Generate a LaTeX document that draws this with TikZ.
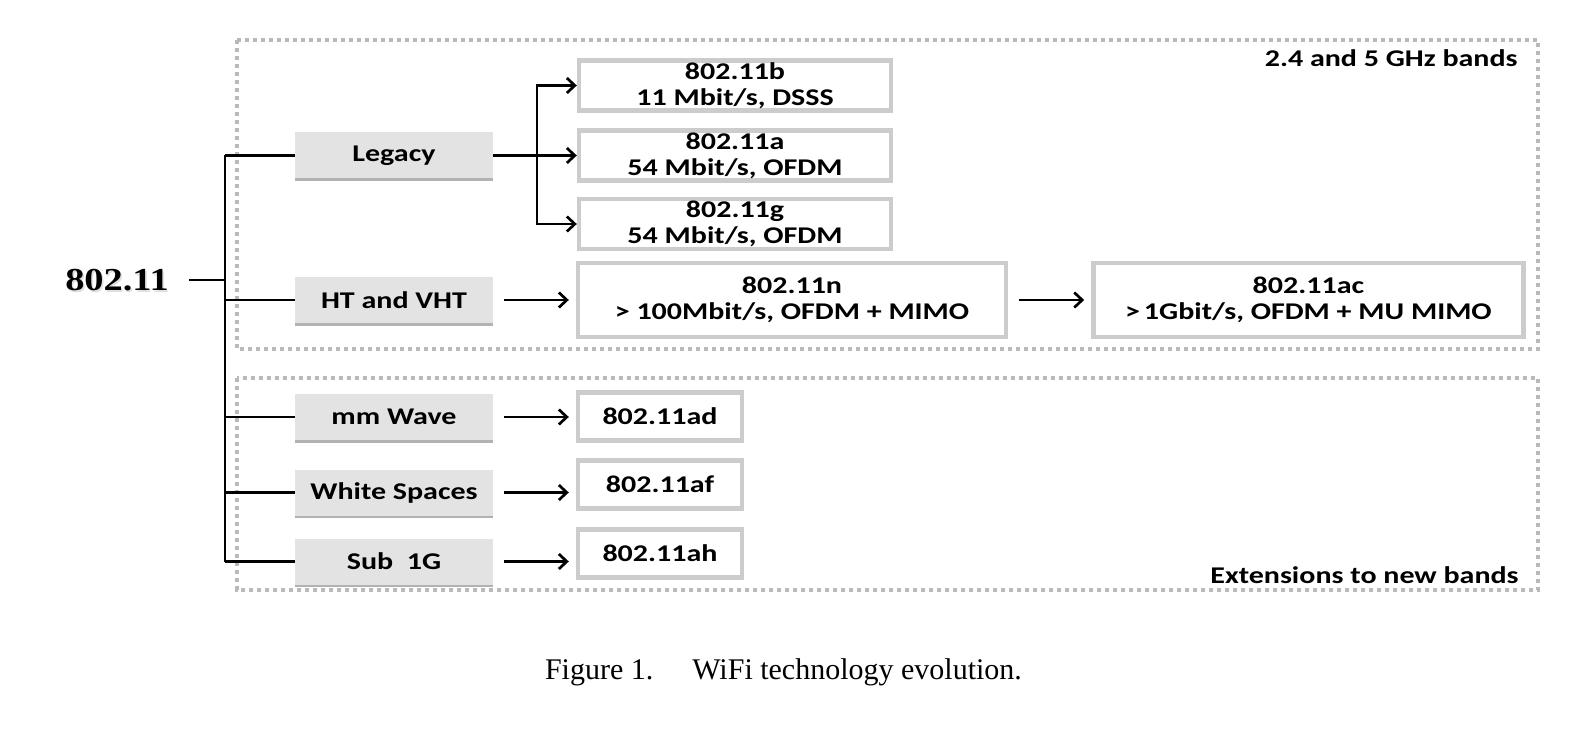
\documentclass[tikz,border=0pt]{standalone}
\usepackage{fontspec}
\setmainfont{Liberation Serif}
\newfontfamily\calfont{Carlito}[FakeStretch=1.25]
\newfontfamily\rootfont{Liberation Serif}[FakeStretch=1.2]
\usepackage{tikz}
\usetikzlibrary{positioning,shadows,arrows.meta}
\tikzset{
>={Straight Barb[length=4pt,width=7.5pt]}, % open arrow heads
link/.style={line width=1.35pt}, % black connectors
group/.style={draw=gray!55, line width=1.7pt, dash pattern=on 2.2pt off 1.8pt}, % dotted band frames
cat/.style={fill=gray!22, minimum width=99pt, minimum height=23pt, inner sep=1pt,
  font=\calfont\bfseries\fontsize{12}{13}\selectfont,
  drop shadow={shadow xshift=0pt, shadow yshift=-1.4pt, fill=black, opacity=.3}},
std/.style={draw=gray!40, line width=2.2pt, fill=white, minimum height=24pt, inner sep=1pt,
  align=center, font=\calfont\bfseries\fontsize{12}{13}\selectfont},
band/.style={anchor=east, inner sep=0pt, font=\calfont\bfseries\fontsize{12}{13}\selectfont},
}

\begin{document}
\begin{tikzpicture}[x=0.5pt, y=-0.5pt, node distance=41.5pt]
\useasboundingbox (0,0) rectangle (1570,733);
% frequency band frames
\draw[group] (237,40) rectangle (1538,349);
\draw[group] (237,378) rectangle (1538,590);
\node[band] (band old) at (1518,58) {2.4 and 5 GHz bands};
\node[band] (band new) at (1519,575) {Extensions to new bands};
% root and categories
\node[text=gray!25, inner sep=0pt, font=\rootfont\bfseries\fontsize{16}{19}\selectfont] (root shadow) at (118.5,282.5) {802.11};
\node[inner sep=0pt, font=\rootfont\bfseries\fontsize{16}{19}\selectfont] (root) at (117,280) {802.11};
\node[cat] (legacy) at (394,155.5) {Legacy};
\node[cat] (ht) at (394,300) {HT and VHT};
\node[cat] (mm) at (394,417) {mm Wave};
\node[cat] (ws) at (394,492.5) {White Spaces};
\node[cat] (sub) at (394,561.5) {Sub~~1G};
% standards
\node[std, minimum width=156pt] (b) at (735,85.5) {802.11b\\11 Mbit/s, DSSS};
\node[std, minimum width=156pt] (a) at (735,155.5) {802.11a\\54 Mbit/s, OFDM};
\node[std, minimum width=156pt] (g) at (735,224) {802.11g\\54 Mbit/s, OFDM};
\node[std, minimum width=214pt, minimum height=37pt] (n) at (792,300) {802.11n\\> 100Mbit/s, OFDM + MIMO};
\node[std, minimum width=215pt, minimum height=37pt] (ac) [right=of n] {802.11ac\\>\,1Gbit/s, OFDM + MU MIMO};
\node[std, minimum width=82pt] (ad) at (660,416.5) {802.11ad};
\node[std, minimum width=82pt] (af) at (660,484.5) {802.11af};
\node[std, minimum width=82pt] (ah) at (660,553.5) {802.11ah};
% tree
\coordinate (trunk) at (225,280);
\coordinate (fork) at (537,155.5);
\draw[link, shorten <=10pt] (root.east) -- (root.east -| trunk);
\draw[link] (legacy.west -| trunk) -- (sub.west -| trunk);
\foreach \c in {legacy,ht,mm,ws,sub}
  \draw[link] (\c.west -| trunk) -- (\c.west);
\draw[link,->] (legacy.east) -- (a.west);
\draw[link,<->] (b.west) -| (fork) |- (g.west);
\path[link,->,shorten <=5.25pt,shorten >=3.5pt]
  (ht) edge (n)
  (n) edge (ac);
\foreach \c/\s in {mm/ad,ws/af,sub/ah}
  \draw[link,->,shorten <=5.25pt,shorten >=3.5pt] (\c.east) -- (\c.east -| \s.west);
% caption
\node[font=\fontsize{15}{18}\selectfont] (caption) at (783.5,672) {Figure 1.\hspace{1.3em}WiFi technology evolution.};
\end{tikzpicture}
\end{document}
